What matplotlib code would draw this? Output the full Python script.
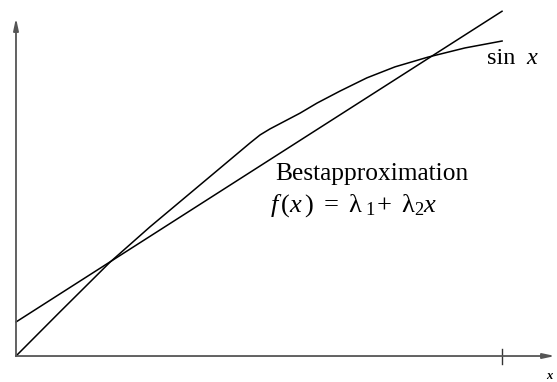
import numpy as np
import matplotlib.pyplot as plt

plt.rcParams['font.family'] = ['Liberation Serif', 'DejaVu Serif']
plt.rcParams['mathtext.fontset'] = 'custom'
plt.rcParams['mathtext.rm'] = 'Liberation Serif'
plt.rcParams['mathtext.it'] = 'Liberation Serif:italic'

# sin x, Stuetzstellen der Kurve auf [0, pi/2]
x_sin = [0.0, 0.142, 0.304, 0.433, 0.659, 0.756, 0.789, 0.821, 0.918, 0.973,
         1.047, 1.134, 1.225, 1.332, 1.451, 1.571]
y_sin = [0.0, 0.140, 0.298, 0.410, 0.596, 0.676, 0.702, 0.721, 0.771, 0.803,
         0.841, 0.883, 0.918, 0.949, 0.978, 1.000]

# beste lineare Approximation f(x) = lambda_1 + lambda_2 * x
lam1 = 0.108
lam2 = 0.628
x_end = np.pi / 2
x_axis_end = 1.742
y_axis_end = 1.073


fig = plt.figure(figsize=(5.57, 3.82), dpi=100)
ax = fig.add_axes([0, 0, 1, 1])
ax.set_xlim(-0.0517, 1.7485)
ax.set_ylim(-0.0825, 1.1302)
ax.axis('off')

# Achsen mit Pfeilen
axcol = '#555555'
ax.annotate('', xy=(x_axis_end, 0), xytext=(0, 0),
            arrowprops=dict(arrowstyle='-|>,head_length=0.7,head_width=0.15',
                            color=axcol, lw=1.3, shrinkA=0, shrinkB=0))
ax.annotate('', xy=(0, y_axis_end), xytext=(0, 0),
            arrowprops=dict(arrowstyle='-|>,head_length=0.7,head_width=0.15',
                            color=axcol, lw=1.3, shrinkA=0, shrinkB=0))
ax.plot([x_end, x_end], [-0.025, 0.022], color='#333333', lw=1.0)

# Kurven
ax.plot(x_sin, y_sin, color='black', lw=1.1)
xl = np.array([0, x_end])
ax.plot(xl, lam1 + lam2 * xl, color='black', lw=1.1)

# Beschriftung
ax.text(1.522, 0.928, 'sin', fontsize=17.5, va='baseline')
ax.text(1.650, 0.928, 'x', fontsize=17.5, style='italic', va='baseline')
ax.text(0.838, 0.560, 'Bestapproximation', fontsize=18.3, va='baseline')
ax.text(0.820, 0.457, r'$f\,(x\,)\ =\ \mathrm{\lambda}_{\ 1}\!+\ \mathrm{\lambda}_2 x$',
        fontsize=19, va='baseline')
ax.text(1.712, -0.072, 'x', fontsize=9, style='italic', weight='bold', va='baseline')

plt.savefig('out.png', dpi=100)
